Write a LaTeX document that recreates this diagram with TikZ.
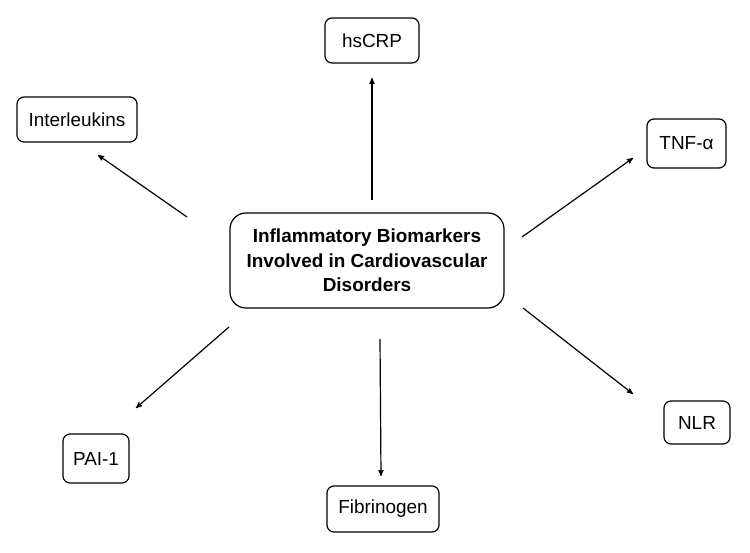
\documentclass[tikz,border=0pt]{standalone}
\usepackage{fontspec}
\setmainfont{Liberation Sans}
\usepackage{tikz}
\usetikzlibrary{arrows}

\begin{document}
\begin{tikzpicture}[x=1bp,y=-1bp,->,>=stealth',line width=1.2bp,
  main node/.style={draw,rounded corners=16bp,align=center,minimum width=274bp,minimum height=95bp,
    font=\fontsize{19}{24.5}\selectfont\bfseries,inner sep=0pt},
  marker node/.style={draw,rounded corners=7bp,font=\fontsize{19}{23}\selectfont,inner sep=0pt}]
  \useasboundingbox (0,0) rectangle (750,553);
  \node[main node] (0) at (367,260.5) {Inflammatory Biomarkers\\Involved in Cardiovascular\\Disorders};
  \node[marker node,minimum width=94bp,minimum height=45bp] (1) at (372,40.5) {hsCRP};
  \node[marker node,minimum width=120bp,minimum height=45bp] (2) at (77,119.5) {Interleukins};
  \node[marker node,minimum width=79bp,minimum height=49bp] (3) at (686.5,143.5) {TNF-α};
  \node[marker node,minimum width=66bp,minimum height=43bp] (4) at (697,422.5) {NLR};
  \node[marker node,minimum width=66bp,minimum height=49bp] (5) at (96,458.5) {PAI-1};
  \node[marker node,minimum width=112bp,minimum height=46bp] (6) at (383,509) {Fibrinogen};

  % arrow ends
  \coordinate (a1) at (372,200); \coordinate (b1) at (372,78);
  \coordinate (a2) at (187,217); \coordinate (b2) at (98,155);
  \coordinate (a3) at (522,237); \coordinate (b3) at (633,158);
  \coordinate (a4) at (523,308); \coordinate (b4) at (633,394);
  \coordinate (a5) at (229,327); \coordinate (b5) at (136,408);
  \coordinate (a6) at (380,339); \coordinate (b6) at (381,476);

  \path
    (a1) edge (b1)
    (a2) edge (b2)
    (a3) edge (b3)
    (a4) edge (b4)
    (a5) edge (b5)
    (a6) edge (b6);
\end{tikzpicture}
\end{document}
